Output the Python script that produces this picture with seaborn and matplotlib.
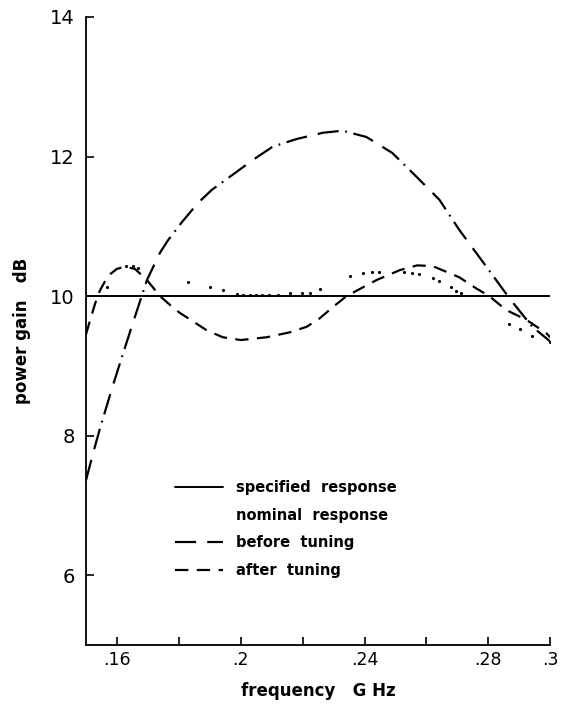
import matplotlib
matplotlib.use('Agg')
import matplotlib.pyplot as plt
from matplotlib.lines import Line2D
import seaborn as sns

# specified response (flat)
spec_freq = [0.15, 0.30]
spec_gain = [10.0, 10.0]

# before tuning (dash-dot)
before_freq = [0.150, 0.1523, 0.1545, 0.1587, 0.162, 0.1652, 0.1697, 0.1739, 0.1765,
               0.181, 0.1861, 0.1906, 0.1965, 0.2039, 0.2103, 0.218, 0.2265, 0.2329,
               0.2406, 0.249, 0.2568, 0.2642, 0.2706, 0.2794, 0.2868, 0.2942, 0.300]
before_gain = [7.36, 7.75, 8.10, 8.72, 9.18, 9.62, 10.23, 10.62, 10.80,
               11.06, 11.33, 11.52, 11.71, 11.95, 12.14, 12.25, 12.34, 12.37,
               12.28, 12.05, 11.71, 11.38, 10.95, 10.42, 9.97, 9.56, 9.35]

# after tuning (short dash)
after_freq = [0.150, 0.1515, 0.153, 0.1545, 0.156, 0.158, 0.160, 0.1626, 0.1658,
              0.168, 0.1697, 0.1739, 0.178, 0.1803, 0.189, 0.1942, 0.200, 0.2084,
              0.2158, 0.2213, 0.2255, 0.2297, 0.2342, 0.2439, 0.2513, 0.257, 0.262,
              0.2706, 0.2761, 0.2803, 0.2858, 0.2923, 0.2987, 0.300]
after_gain = [9.45, 9.68, 9.90, 10.08, 10.20, 10.32, 10.39, 10.42, 10.39,
              10.30, 10.23, 10.0, 9.84, 9.76, 9.51, 9.41, 9.37, 9.41,
              9.48, 9.56, 9.68, 9.84, 10.0, 10.23, 10.37, 10.44, 10.43,
              10.27, 10.11, 10.0, 9.80, 9.66, 9.47, 9.41]

# nominal response (sparse dots)
nominal_freq = [0.1568, 0.1629, 0.1652, 0.1668, 0.1829, 0.190, 0.1942, 0.1987,
                0.2006, 0.203, 0.205, 0.207, 0.209, 0.212, 0.2158, 0.2197, 0.2223,
                0.2255, 0.2352, 0.2394, 0.2423, 0.2448, 0.2529, 0.2555, 0.2577,
                0.262, 0.2642, 0.268, 0.2697, 0.2713, 0.2868, 0.2903, 0.2942, 0.300]
nominal_gain = [10.13, 10.43, 10.43, 10.40, 10.20, 10.13, 10.09, 10.03,
                10.01, 10.01, 10.01, 10.01, 10.01, 10.02, 10.04, 10.04, 10.04,
                10.10, 10.29, 10.33, 10.34, 10.34, 10.34, 10.33, 10.31,
                10.26, 10.21, 10.13, 10.07, 10.04, 9.60, 9.53, 9.43, 9.34]

x_ticks = [0.16, 0.18, 0.2, 0.22, 0.24, 0.26, 0.28, 0.3]
x_labels = ['.16', '', '.2', '', '.24', '', '.28', '.3']
y_ticks = [6, 8, 10, 12, 14]

BEFORE_DASH = (0, (9.5, 5, 9.5, 3, 0.8, 3))
AFTER_DASH = (0, (6, 3.8))

sns.set_style('ticks')
plt.rcParams['font.family'] = ['DejaVu Sans']
plt.rcParams['text.color'] = 'black'
plt.rcParams['axes.labelcolor'] = 'black'
plt.rcParams['xtick.color'] = 'black'
plt.rcParams['ytick.color'] = 'black'

fig = plt.figure(figsize=(5.62, 7.06), dpi=100)
ax = fig.add_axes([0.153, 0.0864, 0.826, 0.8896])

sns.lineplot(x=spec_freq, y=spec_gain, ax=ax, color='black', lw=1.4)
sns.lineplot(x=before_freq, y=before_gain, ax=ax, color='black', lw=1.6, sort=False)
ax.lines[-1].set_linestyle(BEFORE_DASH)
sns.lineplot(x=after_freq, y=after_gain, ax=ax, color='black', lw=1.6, sort=False)
ax.lines[-1].set_linestyle(AFTER_DASH)
ax.plot(nominal_freq, nominal_gain, linestyle='none', marker='.', markersize=2.5, color='black')

ax.set_xlim(0.15, 0.30)
ax.set_ylim(5, 14)
ax.set_xticks(x_ticks)
ax.set_xticklabels(x_labels)
ax.set_yticks(y_ticks)
ax.tick_params(axis='both', direction='in', length=6, width=1.2, color='black')
ax.tick_params(axis='y', labelsize=14, pad=8)
ax.tick_params(axis='x', labelsize=12.5, pad=4)
sns.despine(ax=ax)
for s in ['left', 'bottom']:
    ax.spines[s].set_linewidth(1.3)
    ax.spines[s].set_color('black')

ax.set_xlabel('frequency   G Hz', fontsize=12, fontweight='bold', labelpad=10)
ax.set_ylabel('power gain   dB', fontsize=12, fontweight='bold', labelpad=14)

handles = [
    Line2D([], [], color='black', lw=1.4),
    Line2D([], [], linestyle='none'),
    Line2D([], [], color='black', lw=1.6, linestyle=BEFORE_DASH),
    Line2D([], [], color='black', lw=1.6, linestyle=AFTER_DASH),
]
labels = ['specified  response', 'nominal  response', 'before  tuning', 'after  tuning']
ax.legend(handles, labels, loc='upper left', bbox_to_anchor=(0.192, 0.262),
          frameon=False, borderpad=0, borderaxespad=0, handlelength=3.3,
          handletextpad=0.85, labelspacing=0.85,
          prop={'size': 10.5, 'weight': 'bold'})

fig.savefig('out.png', dpi=100)
